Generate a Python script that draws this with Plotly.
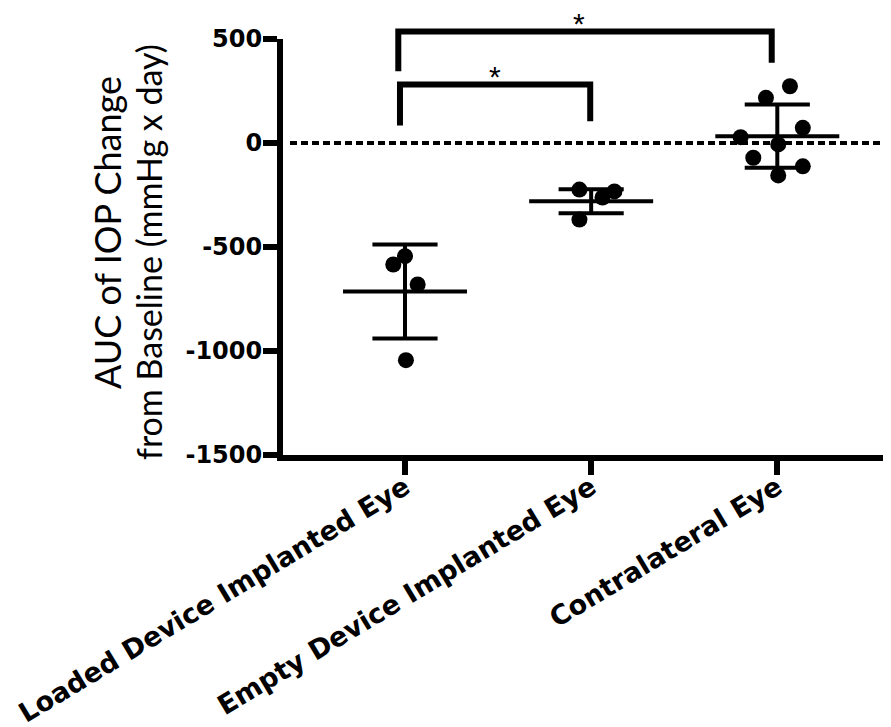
import plotly.graph_objects as go

# ---------------- data ----------------
categories = ["Loaded Device Implanted Eye", "Empty Device Implanted Eye", "Contralateral Eye"]

loaded_vals = [-544, -584, -680, -1044]
loaded_jit = [0.0, -0.063, 0.068, 0.005]

empty_vals = [-224, -262, -233, -368]
empty_jit = [-0.063, 0.061, 0.125, -0.063]

contra_vals = [217, 273, 73, 28, -7, -71, -112, -156]
contra_jit = [-0.061, 0.068, 0.137, -0.197, 0.005, -0.129, 0.137, 0.005]

group_means = [-714, -280, 33]
group_sds = [226, 58, 152]

y_ticks = [500, 0, -500, -1000, -1500]

# significance brackets: (x_left, x_right, y_top, y_left_bottom, y_right_bottom, star_x)
brackets = [
    (-0.036, 1.97, 536, 345, 386, 0.934),
    (-0.027, 0.995, 281, 84, 105, 0.483),
]

# ---------------- layout geometry ----------------
OFF = 8  # page body margin
W, H = 891 - OFF, 727 - OFF
ML, MR, MT, MB = 275, 0, 4, 272
plot_w = W - ML - MR
plot_h = H - MT - MB
px_per_unit = 0.208
y_top_main = -1500 + plot_h / px_per_unit
y2_dom_top = 2000 / (y_top_main + 1500)
x_range = [-0.6554, 2.6108]

def px_to_paper_x(px):
    return (px - OFF - ML) / plot_w

def px_to_paper_y(py):
    return (H - MB - (py - OFF)) / plot_h

mean_half = 0.333
cap_half = 0.175

fig = go.Figure()

# error bars (mean +- SD)
for i, (m, s) in enumerate(zip(group_means, group_sds)):
    xs = [i - mean_half, i + mean_half, None,
          i - cap_half, i + cap_half, None,
          i - cap_half, i + cap_half, None,
          i, i]
    ys = [m, m, None,
          m + s, m + s, None,
          m - s, m - s, None,
          m - s, m + s]
    fig.add_trace(go.Scatter(x=xs, y=ys, mode="lines", xaxis="x", yaxis="y2",
                             line=dict(color="black", width=4),
                             hoverinfo="skip", showlegend=False))

# points
groups = [(loaded_vals, loaded_jit), (empty_vals, empty_jit), (contra_vals, contra_jit)]
for i, (vals, jit) in enumerate(groups):
    fig.add_trace(go.Scatter(x=[i + j for j in jit], y=vals, mode="markers",
                             xaxis="x", yaxis="y2",
                             marker=dict(color="black", size=16, line=dict(width=0)),
                             showlegend=False))

# brackets
for (xl, xr, yt, ylb, yrb, sx) in brackets:
    fig.add_trace(go.Scatter(x=[xl, xl, xr, xr], y=[ylb, yt, yt, yrb], mode="lines",
                             xaxis="x", yaxis="y",
                             line=dict(color="black", width=6),
                             hoverinfo="skip", showlegend=False))
    fig.add_annotation(x=sx, y=yt, xref="x", yref="y", text="*", showarrow=False,
                       yanchor="bottom", yshift=-10,
                       font=dict(family="Liberation Sans", size=30, color="black"))

# dotted zero line
fig.add_shape(type="line", xref="paper", yref="y2", x0=px_to_paper_x(290), x1=1, y0=0, y1=0,
              line=dict(color="black", width=4, dash="7px,4px"))

# y-axis title (two lines)
fig.add_annotation(xref="paper", yref="paper", x=px_to_paper_x(107), y=px_to_paper_y(233),
                   text="AUC of IOP Change", textangle=-90, showarrow=False,
                   xanchor="center", yanchor="middle",
                   font=dict(family="Lato", size=36, color="black"))
fig.add_annotation(xref="paper", yref="paper", x=px_to_paper_x(149), y=px_to_paper_y(252),
                   text="from Baseline (mmHg x day)", textangle=-90, showarrow=False,
                   xanchor="center", yanchor="middle",
                   font=dict(family="Lato", size=34, color="black"))

fig.update_layout(
    width=W, height=H,
    margin=dict(l=ML, r=MR, t=MT, b=MB, autoexpand=False),
    paper_bgcolor="white", plot_bgcolor="rgba(0,0,0,0)",
    showlegend=False,
    xaxis=dict(range=x_range, domain=[0, 1], anchor="y2", automargin=False,
               tickvals=[0, 1, 2], ticktext=categories, tickangle=-31,
               ticklabelstandoff=-14,
               showline=True, linecolor="black", linewidth=6,
               ticks="outside", ticklen=14, tickwidth=6, tickcolor="black",
               showgrid=False, zeroline=False,
               tickfont=dict(family="DejaVu Sans", size=27, color="black", weight="bold")),
    yaxis=dict(range=[-1500, y_top_main], domain=[0, 1], visible=False, automargin=False,
               showgrid=False, zeroline=False),
    yaxis2=dict(range=[-1500, 500], domain=[0, y2_dom_top], anchor="x", automargin=False,
                tickvals=y_ticks, ticktext=[str(v) for v in y_ticks],
                ticklabelstandoff=-4,
                showline=True, linecolor="black", linewidth=6,
                ticks="outside", ticklen=14, tickwidth=6, tickcolor="black",
                showgrid=False, zeroline=False,
                tickfont=dict(family="DejaVu Sans", size=24, color="black", weight="bold")),
)

fig.write_html("out.html")
